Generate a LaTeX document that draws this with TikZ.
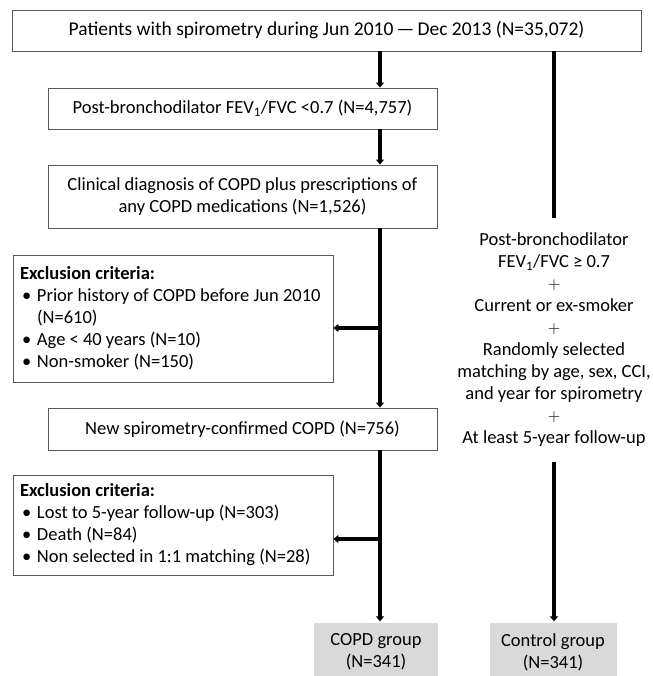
\documentclass[tikz,border=0pt]{standalone}
\usepackage{fontspec}
\setmainfont{Carlito}
\usetikzlibrary{arrows.meta}
\newcommand{\excbullet}{\hspace*{2pt}\rlap{\textbullet}\hspace*{15pt}}

\begin{document}
\begin{tikzpicture}[->,>={Triangle[width=8pt,length=5pt]},x=1pt,y=-1pt,
    line width=3.3pt,
    every node/.style={font=\fontsize{18.5pt}{22pt}\selectfont,inner sep=0pt},
    box/.style={draw=black!65,line width=0.9pt,align=center},
    exclbox/.style={box,align=flush left,text width=306pt,inner xsep=7pt},
    grp/.style={fill=black!15,align=center,minimum width=124pt,minimum height=58pt}]
  \useasboundingbox (0,0) rectangle (652,676);
  \coordinate (spine) at (380,0);
  \coordinate (side) at (554,0);
  \node[box, minimum width=629pt, minimum height=41pt,
    font=\fontsize{19.5pt}{22pt}\selectfont] (top) at (326.5,30.5)
    {Patients with spirometry during Jun 2010\,—\,Dec 2013 (N=35,072)};
  \node[box, minimum width=389pt, minimum height=41pt] (fev) at (242.5,108.5)
    {Post-bronchodilator FEV\textsubscript{1}/FVC <0.7 (N=4,757)};
  \node[box, minimum width=389pt, minimum height=63pt] (diag) at (242.5,196.5)
    {Clinical diagnosis of COPD plus prescriptions of\\any COPD medications (N=1,526)};
  \node[exclbox, minimum height=127pt] (excl1) at (173,318.5)
    {\textbf{Exclusion criteria:}\\
     \excbullet Prior history of COPD before Jun 2010\\
     \hspace*{17pt}(N=610)\\
     \excbullet Age < 40 years (N=10)\\
     \excbullet Non-smoker (N=150)};
  \node[box, minimum width=389pt, minimum height=42pt] (newcopd) at (242.5,429)
    {New spirometry-confirmed COPD (N=756)};
  \node[exclbox, minimum height=100pt] (excl2) at (173,525)
    {\textbf{Exclusion criteria:}\\
     \excbullet Lost to 5-year follow-up (N=303)\\
     \excbullet Death (N=84)\\
     \excbullet Non selected in 1:1 matching (N=28)};
  \node[grp] (copd) at (376,652) {COPD group\\(N=341)};
  \node[grp, minimum width=127pt] (ctrl) at (553,652) {Control group\\(N=341)};
  \node[align=center, inner ysep=13pt] (crit) at (554,340)
    {Post-bronchodilator\\
     FEV\textsubscript{1}/FVC ≥ 0.7\\
     $+$\\
     Current or ex-smoker\\
     $+$\\
     Randomly selected\\
     matching by age, sex, CCI,\\
     and year for spirometry\\
     $+$\\
     At least 5-year follow-up};
  \coordinate (cut1) at (380,328);
  \coordinate (cut2) at (380,539);
  \path (top.south -| spine) edge (fev.north -| spine)
  (fev.south -| spine) edge (diag.north -| spine)
  (diag.south -| spine) edge (newcopd.north -| spine)
  (cut1) edge (cut1 -| excl1.east)
  (newcopd.south -| spine) edge (copd.north -| spine)
  (cut2) edge (cut2 -| excl2.east)
  (top.south -| side) edge [-, line width=4pt] (crit.north)
  (crit.south) edge [line width=4pt] (ctrl.north -| crit)
  ;
\end{tikzpicture}
\end{document}
